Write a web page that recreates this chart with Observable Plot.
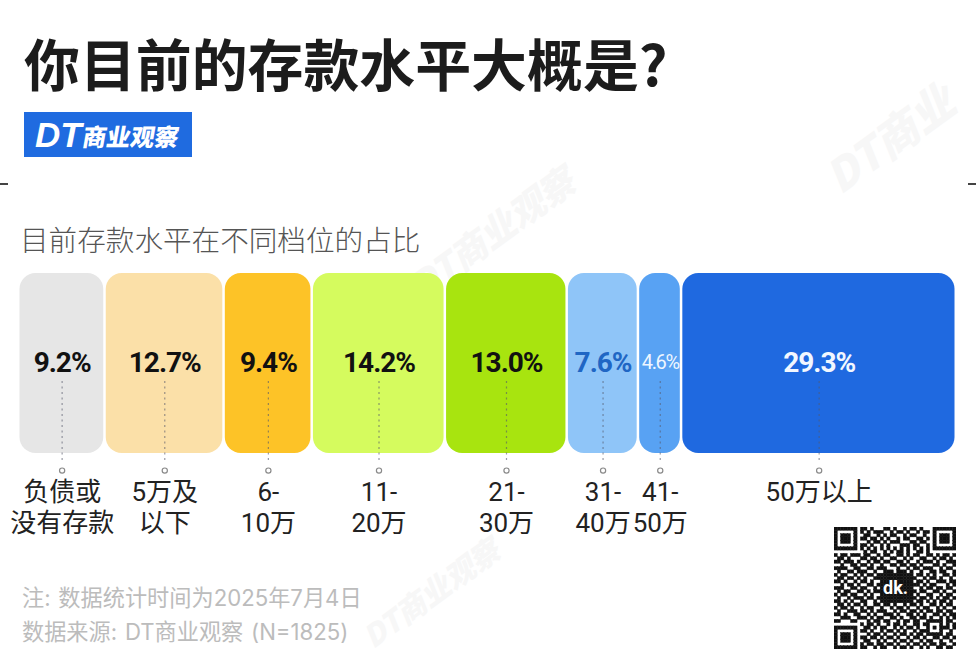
<!DOCTYPE html>
<html lang="zh">
<head>
<meta charset="utf-8">
<script src="https://cdn.jsdelivr.net/npm/d3@7"></script>
<script src="https://cdn.jsdelivr.net/npm/@observablehq/plot@0.6"></script>
<style>
  html, body { margin: 0; background: #fff; }
  #page { position: relative; width: 976px; height: 671px; overflow: hidden; font-family: "Noto Sans CJK SC", sans-serif; }
  #page > * { position: absolute; }
  #title { left: 24px; top: 22px; font-size: 55.9px; line-height: 80px; font-weight: 700; color: #1c1c1c; white-space: nowrap; }
  #logo { left: 24px; top: 112px; width: 168px; height: 45px; background: #1f6be0; color: #fff; white-space: nowrap; line-height: 45px; }
  #logo b { position: absolute; font-weight: 900; }
  #logo .dt { left: 11px; top: 0; font-style: italic; font-family: "Liberation Sans", sans-serif; font-size: 35px; }
  #logo .cn { left: 59px; top: 1px; font-size: 24px; transform: skewX(-10deg); }
  #subtitle { left: 20px; top: 218px; font-size: 28.6px; line-height: 42px; font-weight: 300; color: #555; white-space: nowrap; }
  #note { left: 22px; top: 581px; font-family: Inter, "Noto Sans CJK SC", sans-serif; font-size: 22.2px; line-height: 34px; word-spacing: 1.5px; color: #bcbcbc; white-space: nowrap; }
  .edge { top: 183px; width: 8px; height: 2px; background: #444; }
  .wm { font-size: 36px; font-weight: 900; font-style: italic; color: #f7f7f7; transform: rotate(-36deg); white-space: nowrap; }
  #chart { left: 0; top: 265px; }
  #qr { left: 834px; top: 527px; }
  .pct text { letter-spacing: -1px; }
  .pct-small text { letter-spacing: -1.4px; }
</style>
</head>
<body>
<div id="page">
  <div class="wm" style="left:815px;top:105px;font-size:44px">DT商业</div>
  <div class="wm" style="left:395px;top:205px">DT商业观察</div>
  <div class="wm" style="left:350px;top:570px;font-size:30px">DT商业观察</div>
  <div id="title">你目前的存款水平大概是?</div>
  <div id="logo"><b class="dt">DT</b><b class="cn">商业观察</b></div>
  <div class="edge" style="left:0"></div>
  <div class="edge" style="left:968px"></div>
  <div id="subtitle">目前存款水平在不同档位的占比</div>
  <div id="chart"></div>
  <div id="note">注: 数据统计时间为2025年7月4日<br>数据来源: DT商业观察 (N=1825)</div>
  <div id="qr"></div>
</div>
<script>
const categories = ['负债或\n没有存款', '5万及\n以下', '6-\n10万', '11-\n20万', '21-\n30万', '31-\n40万', '41-\n50万', '50万以上']
const shares = [9.2, 12.7, 9.4, 14.2, 13.0, 7.6, 4.6, 29.3]
const barColors = ['#e6e6e6', '#fbe0a8', '#fdc327', '#d5fb5e', '#a8e40f', '#8fc5f8', '#58a2f3', '#1f69e0']
const shareColors = ['#111', '#111', '#111', '#111', '#111', '#1f66c4', '#eef6ff', '#f2f7ff']

// qr modules read off the picture by eye, not a scannable code
const qrRows = [
  '1111111011010001101001011010001111111',
  '1000001010101110010110100101101000001',
  '1011101001100101011001011001001011101',
  '1011101011011010100101100110101011101',
  '1011101000101101011100011011001011101',
  '1000001011010010100011101100101000001',
  '1111111010101010101010101010101111111',
  '0000000001011001010110100110100000000',
  '1011011101100101100110101100110101101',
  '0110100011011010011001010011001011010',
  '1101110100101101100110100101110100111',
  '0010011011010010011011011010001101001',
  '1111001100110111000100101101110010110',
  '0100110111001001110111010010011011001',
  '1011001010110111111111110110101001101',
  '0110110101001111111111111001011010010',
  '1101001011010011111111110110100111011',
  '0010110100110111111111111101011000101',
  '1110011011001011111111110010110110110',
  '0101100110101111111111111011001101001',
  '1011011001010011111111110100110010110',
  '0100101110110111111111111011010101101',
  '1101010011001011111111110110101011010',
  '0110101101001101101001011010011010110',
  '1011010010110010010110100101100101001',
  '0100111011010111001011011010110110110',
  '1101001100101001110100110101001101011',
  '0011100111010110011010011011010010101',
  '1100011000101101100101101100111110110',
  '0000000010110100101101001101100010101',
  '1111111001101011001010110100101011101',
  '1000001011010010110101001011100010010',
  '1011101000101101001011010110111110110',
  '1011101011011010110100101101001101101',
  '1011101001100101001011010010110010010',
  '1000001010110110110100101101011011001',
  '1111111011001011001011010010100110110'
]

const ends = d3.cumsum(shares)
const table = shares.map((v, i) => ({
  category: categories[i],
  share: v,
  start: ends[i] - v,
  end: ends[i],
  mid: ends[i] - v / 2,
  fill: barColors[i],
  ink: shareColors[i],
  label: v.toFixed(1) + '%'
}))

let chart = Plot.plot({
  marks: [
    Plot.rect(table, {
      x1: 'start',
      x2: 'end',
      y1: 0,
      y2: 1,
      fill: 'fill',
      rx: 16,
      insetLeft: 1,
      insetRight: 1.5,
    }),
    Plot.ruleX(table, {
      x: 'mid',
      y1: 0.4,
      y2: -0.055,
      stroke: '#55596a',
      strokeOpacity: 0.6,
      strokeWidth: 1.2,
      strokeDasharray: '2,3.5',
    }),
    Plot.dot(table, {
      x: 'mid',
      y: -0.095,
      r: 2.6,
      fill: '#fff',
      stroke: '#8a8a8a',
      strokeWidth: 1.2,
    }),
    Plot.text(table.filter(d => d.share > 5), {
      x: 'mid',
      y: 0.505,
      text: 'label',
      fill: 'ink',
      fontSize: 28,
      fontWeight: 700,
      className: 'pct',
    }),
    Plot.text(table.filter(d => d.share < 5), {
      x: 'mid',
      y: 0.505,
      text: 'label',
      fill: 'ink',
      fontSize: 20,
      className: 'pct-small',
    }),
    Plot.text(table, {
      x: 'mid',
      y: -0.14,
      text: 'category',
      lineAnchor: 'top',
      lineHeight: 1.2,
      fontSize: 26,
      fill: '#222',
    }),
  ],
  x: { domain: [0, 100], axis: null },
  y: { domain: [0, 1], axis: null },
  style: { fontFamily: 'Roboto, "Noto Sans CJK SC", sans-serif', background: 'transparent', overflow: 'visible' },
  width: 976,
  height: 280,
  marginTop: 8,
  marginBottom: 92,
  marginLeft: 18.5,
  marginRight: 20,
})
d3.select('#chart').append(() => chart)

const qrCells = qrRows.flatMap((row, r) => Array.from(row, (v, c) => ({ r, c, v }))).filter(d => d.v == '1')

let qr = Plot.plot({
  marks: [
    Plot.cell(qrCells, { x: 'c', y: 'r', fill: '#111', stroke: '#111', strokeWidth: 0.4 }),
    Plot.text(['dk.'], { frameAnchor: 'middle', text: d => d, fill: '#fff', fontSize: 18, fontWeight: 700 }),
  ],
  x: { axis: null, domain: d3.range(37), padding: 0, round: false },
  y: { axis: null, domain: d3.range(37), padding: 0, round: false },
  style: { fontFamily: 'Roboto, sans-serif', background: 'transparent' },
  width: 122,
  height: 122,
  margin: 0,
})
d3.select('#qr').append(() => qr)
</script>
</body>
</html>
